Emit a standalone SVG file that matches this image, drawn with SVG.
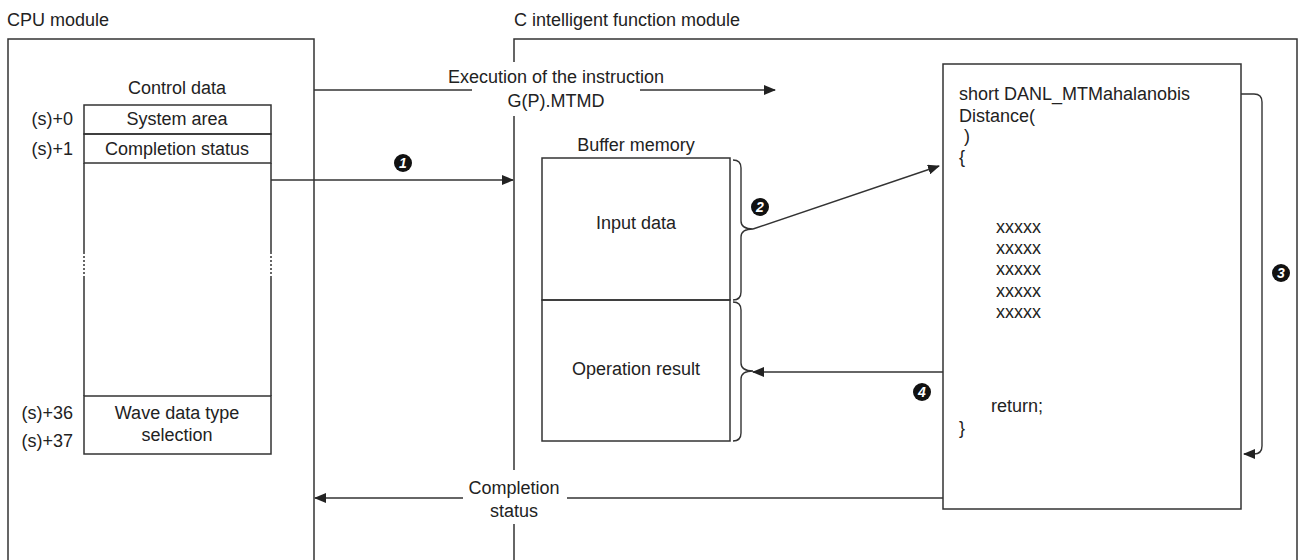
<svg xmlns="http://www.w3.org/2000/svg" width="1298" height="560" viewBox="0 0 1298 560">
<style>
text{font-family:"Liberation Sans",Arial,sans-serif;font-size:18px;fill:#222}
.m{text-anchor:middle}
.e{text-anchor:end}
.box{fill:none;stroke:#333;stroke-width:1.5}
.ln{fill:none;stroke:#333;stroke-width:1.4}
.num{font-size:14px;font-weight:bold;font-style:italic;fill:#fff;text-anchor:middle}
</style>
<defs>
<marker id="ah" markerWidth="12" markerHeight="10" refX="11" refY="5" orient="auto" markerUnits="userSpaceOnUse">
<path d="M0,0 L12,5 L0,10 Z" fill="#222"/>
</marker>
</defs>

<g id="cpu-module">
<text x="7" y="26">CPU module</text>
<path class="box" d="M8,560 V39 H314 V560"/>
</g>

<g id="c-module">
<text x="514" y="26">C intelligent function module</text>
<path class="box" d="M514,62 V39 H1297 V560"/>
<path class="box" d="M514,116 V470"/>
<path class="box" d="M514,524 V560"/>
</g>

<g id="control-data">
<text class="m" x="177" y="94">Control data</text>
<rect class="box" x="84" y="105" width="187" height="29"/>
<rect class="box" x="84" y="134" width="187" height="29"/>
<path class="box" d="M84,163 V252 M271,163 V252 M84,277 V396 M271,277 V396"/>
<path d="M84,252 V277 M271,252 V277" stroke="#333" stroke-width="1.5" stroke-dasharray="2,2"/>
<rect class="box" x="84" y="396" width="187" height="58"/>
<text class="m" x="177" y="125">System area</text>
<text class="m" x="177" y="155">Completion status</text>
<text class="m" x="177" y="419">Wave data type</text>
<text class="m" x="177" y="441">selection</text>
<text class="e" x="73" y="125">(s)+0</text>
<text class="e" x="73" y="155">(s)+1</text>
<text class="e" x="73" y="419">(s)+36</text>
<text class="e" x="73" y="447">(s)+37</text>
</g>

<g id="buffer-memory">
<text class="m" x="636" y="151">Buffer memory</text>
<rect class="box" x="542" y="158" width="188" height="142"/>
<rect class="box" x="542" y="300" width="188" height="141"/>
<text class="m" x="636" y="229">Input data</text>
<text class="m" x="636" y="375">Operation result</text>
<path class="ln" d="M733,160 Q741,160 741,168 V221 Q741,229 753,229 Q741,229 741,237 V292 Q741,300 733,300"/>
<path class="ln" d="M733,302 Q741,302 741,310 V363 Q741,371 753,371 Q741,371 741,379 V433 Q741,441 733,441"/>
</g>

<g id="function">
<rect class="box" x="943" y="64" width="298" height="445"/>
<text x="959" y="100">short DANL_MTMahalanobis</text>
<text x="959" y="122">Distance(</text>
<text x="964" y="142">)</text>
<text x="959" y="163">{</text>
<text x="996" y="233">xxxxx</text>
<text x="996" y="254">xxxxx</text>
<text x="996" y="275">xxxxx</text>
<text x="996" y="297">xxxxx</text>
<text x="996" y="318">xxxxx</text>
<text x="991" y="412">return;</text>
<text x="959" y="434">}</text>
</g>

<g id="connectors">
<path class="ln" d="M314,90 H472"/>
<path class="ln" d="M640,90 H775" marker-end="url(#ah)"/>
<text class="m" x="556" y="83">Execution of the instruction</text>
<text class="m" x="556" y="107">G(P).MTMD</text>

<path class="ln" d="M271,180 H513" marker-end="url(#ah)"/>
<path class="ln" d="M753,229 L939,166" marker-end="url(#ah)"/>
<path class="ln" d="M1241,94 H1254 Q1262,94 1262,102 V446 Q1262,454 1254,454 H1244" marker-end="url(#ah)"/>
<path class="ln" d="M943,372 H753" marker-end="url(#ah)"/>

<path class="ln" d="M943,498 H567"/>
<path class="ln" d="M463,498 H315" marker-end="url(#ah)"/>
<text class="m" x="514" y="494">Completion</text>
<text class="m" x="514" y="517">status</text>
</g>

<g id="markers">
<circle cx="403" cy="163" r="9" fill="#111"/>
<text class="num" x="403" y="168">1</text>
<circle cx="760" cy="207" r="9" fill="#111"/>
<text class="num" x="760" y="212">2</text>
<circle cx="1281" cy="273" r="9" fill="#111"/>
<text class="num" x="1281" y="278">3</text>
<circle cx="922" cy="392" r="9" fill="#111"/>
<text class="num" x="922" y="397">4</text>
</g>
</svg>
